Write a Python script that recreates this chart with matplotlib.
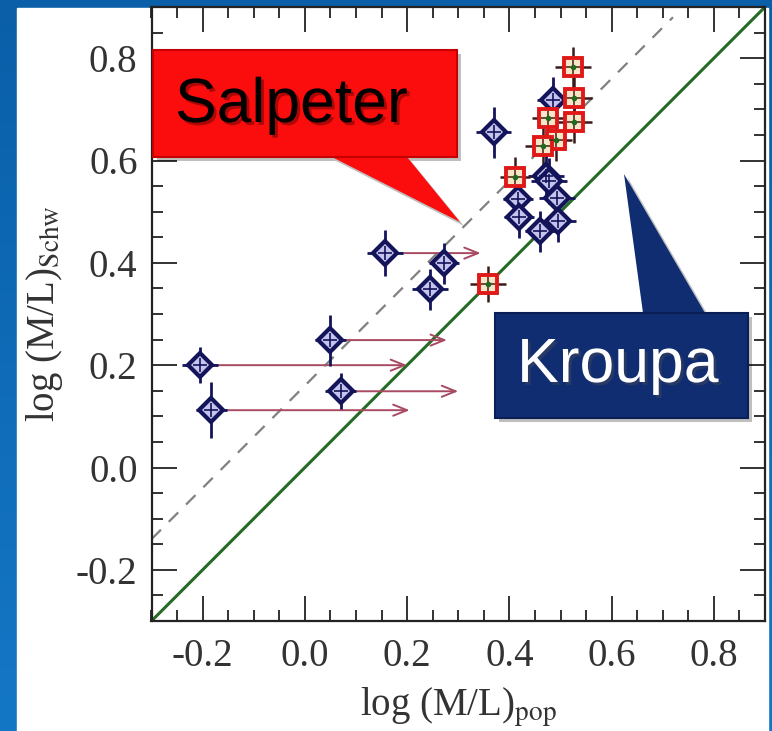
import numpy as np
import matplotlib
matplotlib.use("Agg")
import matplotlib.pyplot as plt
from matplotlib.patches import Rectangle, Polygon
from matplotlib.ticker import MultipleLocator
import matplotlib.patheffects as pe

plt.rcParams['font.family'] = ['Liberation Serif', 'DejaVu Serif']
plt.rcParams['mathtext.fontset'] = 'stix'

# galaxies with only a lower limit on the population M/L (arrows)
lim_x = [-0.205, -0.183, 0.05, 0.07, 0.157]
lim_y = [0.200, 0.112, 0.249, 0.149, 0.419]
lim_end = [0.200, 0.205, 0.278, 0.300, 0.344]
lim_xerr = [0.035, 0.030, 0.030, 0.030, 0.035]
lim_yerr = [0.035, 0.055, 0.050, 0.035, 0.045]

# blue diamonds
dia_x = [0.272, 0.244, 0.369, 0.417, 0.419, 0.493, 0.495, 0.460, 0.472, 0.478, 0.485]
dia_y = [0.399, 0.348, 0.655, 0.524, 0.489, 0.526, 0.481, 0.462, 0.570, 0.560, 0.718]
dia_xerr = [0.030, 0.035, 0.035, 0.030, 0.030, 0.035, 0.035, 0.030, 0.035, 0.035, 0.030]
dia_yerr = [0.040, 0.040, 0.050, 0.040, 0.040, 0.040, 0.040, 0.040, 0.045, 0.045, 0.045]

# red squares
sq_x = [0.358, 0.411, 0.525, 0.526, 0.527, 0.492, 0.466, 0.475]
sq_y = [0.358, 0.567, 0.782, 0.723, 0.675, 0.640, 0.628, 0.684]
sq_xerr = [0.035, 0.030, 0.035, 0.035, 0.035, 0.030, 0.035, 0.030]
sq_yerr = [0.035, 0.040, 0.040, 0.040, 0.040, 0.040, 0.040, 0.040]

lims = [-0.3, 0.9]
salpeter_offset = 0.16
dashed_stop = 0.72

W, H = 772, 731
fig = plt.figure(figsize=(W / 100, H / 100), dpi=100)


def px(x, y):
    # pixel position (from top-left) -> figure fraction
    return (x / W, 1 - y / H)


# slide background: blue gradient plus white panel
bg = fig.add_axes([0, 0, 1, 1], zorder=-10)
grad = np.linspace(0, 1, 256).reshape(-1, 1)
bg.imshow(grad, aspect='auto', extent=[0, 1, 0, 1], origin='upper',
          cmap=matplotlib.colors.LinearSegmentedColormap.from_list('sl', ['#0a5fa8', '#1477c6']))
bg.add_patch(Rectangle(px(17, 731), 751 / W, 723 / H, color='white', transform=bg.transAxes))
bg.set_xlim(0, 1)
bg.set_ylim(0, 1)
bg.axis('off')

ax = fig.add_axes([151.5 / W, 1 - 621 / H, 613.5 / W, 614 / H])
ax.set_facecolor('none')

# one-to-one (Kroupa) and offset (Salpeter) lines
ax.plot(lims, lims, color='#256b25', lw=2.2, zorder=2)
ax.plot([lims[0], dashed_stop], [lims[0] + salpeter_offset, dashed_stop + salpeter_offset],
        color='#808080', lw=1.6, dashes=(6, 5), zorder=2)

navy = '#14145a'
for x0, y0, x1 in zip(lim_x, lim_y, lim_end):
    ax.annotate('', xy=(x1, y0), xytext=(x0, y0),
                arrowprops=dict(arrowstyle='->,head_length=1.0,head_width=0.4',
                                color='#a84a62', lw=1.4, shrinkA=0, shrinkB=0), zorder=3)

ax.errorbar(lim_x, lim_y, xerr=lim_xerr, yerr=lim_yerr, fmt='none', ecolor=navy,
            elinewidth=2.0, capsize=0, zorder=4)
ax.errorbar(dia_x, dia_y, xerr=dia_xerr, yerr=dia_yerr, fmt='none', ecolor=navy,
            elinewidth=2.0, capsize=0, zorder=4)
ax.errorbar(sq_x, sq_y, xerr=sq_xerr, yerr=sq_yerr, fmt='none', ecolor='#3a1a1a',
            elinewidth=1.8, capsize=0, zorder=4)

all_dx = lim_x + dia_x
all_dy = lim_y + dia_y
ax.plot(all_dx, all_dy, 'D', ms=12.5, mfc='#c4c4ee', mec=navy, mew=3.0, ls='none', zorder=5)
ax.plot(all_dx, all_dy, '+', ms=10, color=navy, mew=1.2, ls='none', zorder=6)
ax.plot(sq_x, sq_y, 's', ms=13, mfc='#f4e6c8', mec='#e01818', mew=2.8, ls='none', zorder=5)
ax.plot(sq_x, sq_y, '+', ms=10, color='#5a2a1a', mew=1.2, ls='none', zorder=6)
ax.plot(sq_x, sq_y, 'o', ms=3, color='#1f6a1f', ls='none', zorder=7)

ax.set_xlim(lims)
ax.set_ylim(lims)
ax.xaxis.set_major_locator(MultipleLocator(0.2))
ax.xaxis.set_minor_locator(MultipleLocator(0.05))
ax.yaxis.set_major_locator(MultipleLocator(0.2))
ax.yaxis.set_minor_locator(MultipleLocator(0.05))
ax.xaxis.set_major_formatter(matplotlib.ticker.FormatStrFormatter('%.1f'))
ax.yaxis.set_major_formatter(matplotlib.ticker.FormatStrFormatter('%.1f'))
ax.tick_params(which='both', direction='in', top=True, right=True, colors='#222222',
               labelsize=28, labelcolor='#333333')
ax.tick_params(which='major', length=18, width=1.3)
ax.tick_params(which='minor', length=8, width=1.3)
ax.tick_params(axis='x', pad=12)
ax.tick_params(axis='y', pad=10)
for s in ax.spines.values():
    s.set_linewidth(1.6)
    s.set_color('#222222')

ax.set_xlabel(r'log (M/L)$_{\mathrm{pop}}$', fontsize=28, color='#333333', labelpad=8)
ax.set_ylabel(r'log (M/L)$_{\mathrm{Schw}}$', fontsize=28, color='#333333', labelpad=8)

# callouts
shadow = dict(facecolor='#000000', alpha=0.25, edgecolor='none', transform=fig.transFigure,
              zorder=20)


def callout(box, tip, color, edge):
    x0, y0, x1, y1 = box
    (bx0, by), (bx1, _), (tx, ty) = tip
    pts = [px(x0, y0), px(x1, y0), px(x1, y1), px(x0, y1)]
    sh = [(p[0] + 4 / W, p[1] - 4 / H) for p in pts]
    fig.patches.append(Polygon(sh, closed=True, **shadow))
    fig.patches.append(Polygon([(p[0] + 4 / W, p[1] - 4 / H) for p in
                                [px(bx0, by), px(bx1, by), px(tx, ty)]], closed=True, **shadow))
    fig.patches.append(Polygon([px(bx0, by), px(bx1, by), px(tx, ty)], closed=True,
                               facecolor=color, edgecolor='none', transform=fig.transFigure,
                               zorder=21))
    fig.patches.append(Polygon(pts, closed=True, facecolor=color, edgecolor=edge, lw=1.5,
                               transform=fig.transFigure, zorder=22))


callout((153, 50, 457, 157), ((332, 157), (407, 157), (460, 222)), '#fb0d0d', '#c40000')
callout((495, 313, 748, 418), ((643, 313), (705, 313), (624, 174)), '#102d72', '#0a1f55')

fig.text(*px(175, 122), 'Salpeter', family=['Liberation Sans', 'DejaVu Sans'], fontsize=45,
         color='black', ha='left', va='baseline', zorder=30,
         path_effects=[pe.withSimplePatchShadow(offset=(2, -2), shadow_rgbFace='#600000', alpha=0.5)])
fig.text(*px(517, 382), 'Kroupa', family=['Liberation Sans', 'DejaVu Sans'], fontsize=45,
         color='white', ha='left', va='baseline', zorder=30,
         path_effects=[pe.withSimplePatchShadow(offset=(2, -2), alpha=0.4)])

fig.savefig('out.png', dpi=100)
